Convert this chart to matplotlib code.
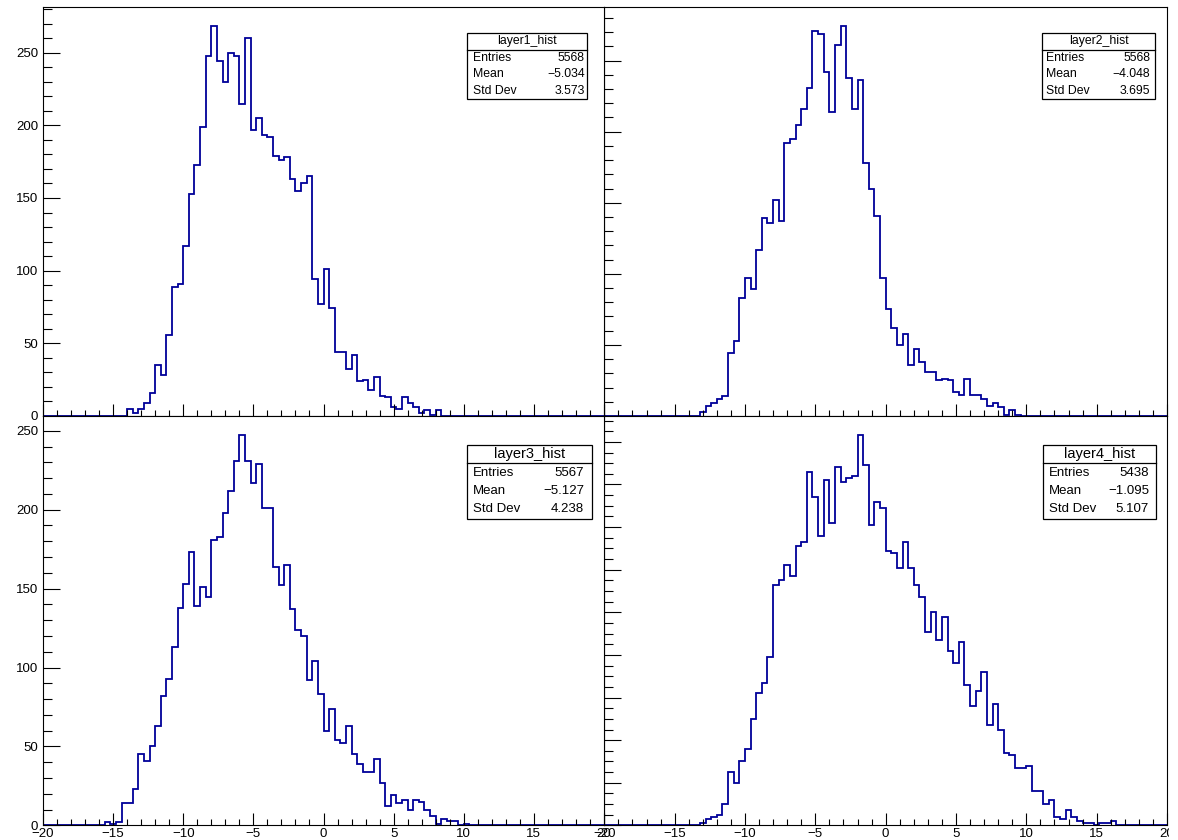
import numpy as np
import matplotlib
matplotlib.use('Agg')
import matplotlib.pyplot as plt
from matplotlib.ticker import MultipleLocator
from matplotlib.patches import Rectangle
from matplotlib.lines import Line2D

plt.rcParams['font.family'] = ['Liberation Sans', 'DejaVu Sans']

# 100 bins from -20 to 20 (width 0.4); counts start at the first filled bin
edges = np.linspace(-20, 20, 101)

layer1_first = 15
layer1_counts = [5, 2, 5, 9, 16, 35, 28, 56, 89, 91, 117, 153, 173, 199, 248,
                 268, 244, 230, 250, 248, 215, 260, 197, 205, 193, 192, 179,
                 176, 178, 163, 155, 160, 165, 94, 77, 101, 74, 44, 44, 32, 42,
                 24, 25, 18, 27, 14, 13, 6, 5, 13, 9, 6, 2, 4, 1, 4]

layer2_first = 17
layer2_counts = [3, 7, 9, 12, 14, 44, 53, 83, 97, 89, 117, 139, 136, 152, 137,
                 192, 195, 205, 216, 231, 271, 269, 242, 214, 261, 274, 238,
                 216, 236, 178, 160, 141, 97, 75, 62, 50, 58, 36, 47, 38, 31,
                 31, 25, 26, 25, 17, 15, 26, 15, 15, 12, 7, 9, 6, 1, 4, 1]

layer3_first = 11
layer3_counts = [2, 1, 2, 14, 14, 23, 45, 41, 50, 63, 82, 93, 113, 138, 153,
                 173, 139, 151, 145, 181, 183, 198, 212, 231, 247, 231, 217,
                 229, 201, 201, 164, 152, 165, 137, 124, 120, 92, 104, 83, 60,
                 74, 54, 52, 63, 45, 39, 34, 34, 42, 27, 12, 19, 14, 16, 10,
                 16, 15, 10, 6, 1, 4, 3, 3, 0, 1]

layer4_first = 17
layer4_counts = [1, 3, 4, 5, 10, 25, 20, 30, 36, 50, 62, 67, 79, 113, 115, 122,
                 117, 131, 133, 166, 154, 136, 162, 142, 168, 161, 163, 164,
                 183, 169, 141, 152, 149, 129, 128, 121, 133, 121, 113, 107,
                 91, 100, 87, 98, 82, 76, 86, 66, 56, 63, 72, 47, 57, 45, 34,
                 33, 27, 27, 28, 16, 16, 10, 12, 4, 3, 7, 4, 2, 1, 1, 0, 1, 1, 2]

names = ['layer1_hist', 'layer2_hist', 'layer3_hist', 'layer4_hist']
entries = ['5568', '5568', '5567', '5438']
means = ['\u22125.034', '\u22124.048', '\u22125.127', '\u22121.095']
stds = ['3.573', '3.695', '4.238', '5.107']

W, H = 1178, 840
LINE = '#000099'


def fx(x):
    return x / W


def fy(y):
    return 1 - y / H


def full(first, counts):
    h = np.zeros(100)
    h[first:first + len(counts)] = counts
    return h


def make_pad(fig, left, top, right, bottom, counts, ymajor, yminor, xlabels, ylabels):
    ax = fig.add_axes([fx(left), fy(bottom), (right - left) / W, (bottom - top) / H])
    ax.stairs(counts, edges, baseline=0, color=LINE, linewidth=1.3)
    ax.set_xlim(-20, 20)
    ax.set_ylim(0, counts.max() * 1.05)
    ax.xaxis.set_major_locator(MultipleLocator(5))
    ax.xaxis.set_minor_locator(MultipleLocator(1))
    ax.yaxis.set_major_locator(MultipleLocator(ymajor))
    ax.yaxis.set_minor_locator(MultipleLocator(yminor))
    ax.tick_params(axis='x', which='major', direction='in', length=8.6, width=0.8,
                   labelsize=9.5, pad=2, labelbottom=xlabels)
    ax.tick_params(axis='x', which='minor', direction='in', length=4.6, width=0.8)
    ax.tick_params(axis='y', which='major', direction='in', length=12.5, width=0.8,
                   labelsize=9.5, pad=3.5, labelleft=ylabels)
    ax.tick_params(axis='y', which='minor', direction='in', length=6.8, width=0.8)
    for s in ax.spines.values():
        s.set_linewidth(0.8)
    return ax


def stats_box(fig, i, x0, y0, x1, y1, lab_x, val_x, title_size, row_size):
    fig.add_artist(Rectangle((fx(x0), fy(y1)), (x1 - x0) / W, (y1 - y0) / H,
                             transform=fig.transFigure, facecolor='white',
                             edgecolor='black', linewidth=0.9, zorder=3))
    dy = (y1 - y0) / 4
    fig.add_artist(Line2D([fx(x0), fx(x1)], [fy(y0 + dy), fy(y0 + dy)],
                          transform=fig.transFigure, color='black', linewidth=0.9, zorder=4))
    fig.text(fx((x0 + x1) / 2), fy(y0 + dy / 2), names[i], ha='center', va='center',
             fontsize=title_size, zorder=5)
    rows = [('Entries', entries[i]), ('Mean', means[i]), ('Std Dev', stds[i])]
    for j, (lab, val) in enumerate(rows):
        yc = fy(y0 + dy * (j + 1.5))
        fig.text(fx(lab_x), yc, lab, ha='left', va='center', fontsize=row_size, zorder=5)
        fig.text(fx(val_x), yc, val, ha='right', va='center', fontsize=row_size, zorder=5)


fig = plt.figure(figsize=(11.78, 8.40), dpi=100)

# draw order makes later pads hide parts of earlier ones, like the canvas
make_pad(fig, 604.3, 7, 1167, 416, full(layer2_first, layer2_counts), 50, 10, False, False)
make_pad(fig, 43, 7, 604, 416, full(layer1_first, layer1_counts), 50, 10, False, True)
make_pad(fig, 604.3, 416, 1167, 825.4, full(layer4_first, layer4_counts), 20, 5, True, False)
make_pad(fig, 43, 416, 604, 825.4, full(layer3_first, layer3_counts), 50, 10, True, True)

stats_box(fig, 0, 467, 33, 587, 99, 473, 585, 8.8, 8.8)
stats_box(fig, 1, 1042, 33, 1155, 99, 1046, 1150, 8.8, 8.8)
stats_box(fig, 2, 467, 445, 592, 518.5, 473, 584, 10.5, 9.5)
stats_box(fig, 3, 1043, 445, 1156, 518.5, 1049, 1149, 10.5, 9.5)

# canvas edge clips the last x label of the right pads
fig.add_artist(Rectangle((fx(1168.5), 0), (W - 1168.5) / W, 1, transform=fig.transFigure,
                         facecolor='white', edgecolor='none', zorder=10))

fig.savefig('out.png', dpi=100, facecolor='white')
